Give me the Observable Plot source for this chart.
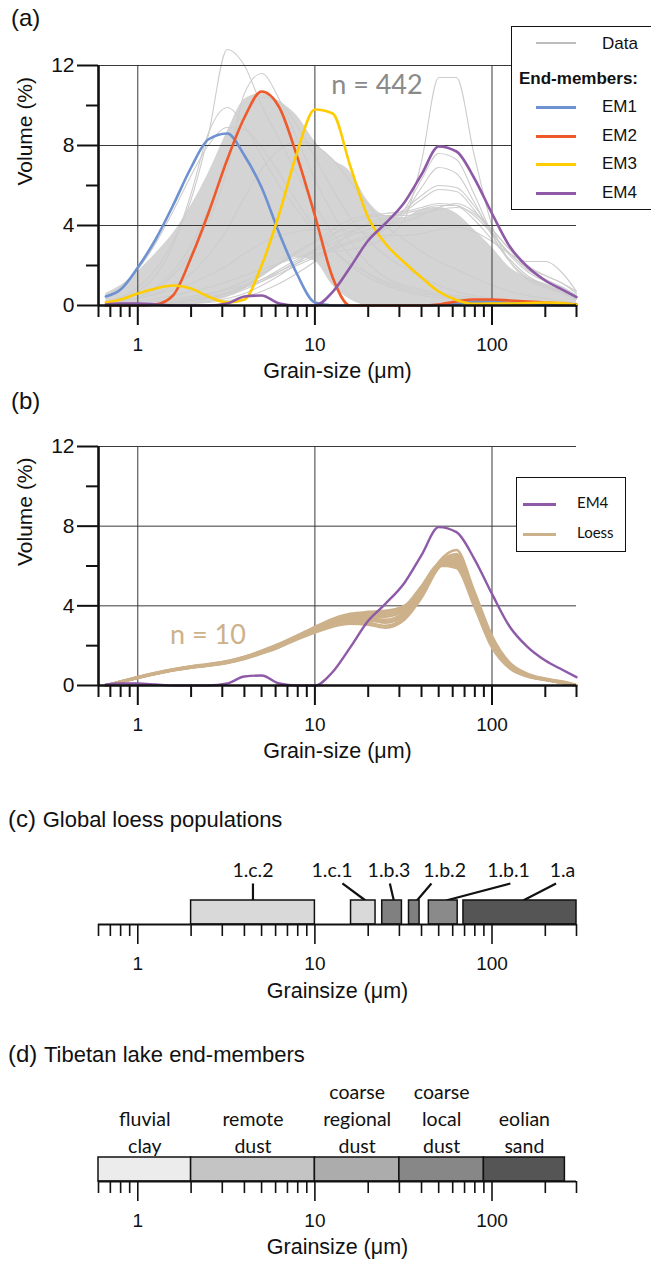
<!DOCTYPE html>
<html><head><meta charset="utf-8">
<script src="https://cdn.jsdelivr.net/npm/d3@7"></script>
<script src="https://cdn.jsdelivr.net/npm/@observablehq/plot@0.6"></script>
<style>
body{margin:0;background:#fff;overflow:hidden;}
#root{position:relative;width:651px;height:1261px;overflow:hidden;font-family:"Liberation Sans",Arial,sans-serif;color:#111;}
.abs{position:absolute;white-space:nowrap;line-height:1;}
.panel{position:absolute;left:0;}
.lg{position:absolute;background:#fff;border:1.5px solid #111;box-sizing:border-box;}
.sw{position:absolute;height:3px;}
</style></head><body><div id="root"></div>
<script>
// ---------- data ----------
const grain = [0.66,0.8,1,1.26,1.58,2,2.5,3.2,4,5,6.3,7.9,10,12.6,15.8,20,25,32,40,50,63,79,100,126,158,200,251,300];

const em1 = [0.45,0.8,1.9,3.3,5.0,6.9,8.3,8.6,7.5,5.9,3.6,1.6,0.15,0,0,0,0,0,0,0.02,0.08,0.18,0.2,0.12,0.05,0.02,0,0];
const em2 = [0,0,0,0.05,0.5,2.4,4.6,7.3,9.4,10.7,9.9,7.5,4.5,1.4,0,0,0,0,0,0.05,0.2,0.3,0.3,0.25,0.2,0.15,0.1,0.05];
const em3 = [0.15,0.3,0.6,0.85,1.0,0.85,0.45,0.15,0.3,2.0,4.6,7.6,9.8,9.6,7.0,4.4,3.1,2.15,1.4,0.7,0.28,0.08,0.1,0.1,0.12,0.15,0.12,0.02];
const em4 = [0.05,0.1,0.1,0.05,0,0,0,0.1,0.45,0.5,0.1,0,0,0.68,1.9,3.25,4.1,5.15,6.55,7.95,7.7,6.4,4.6,2.95,1.95,1.25,0.78,0.42];
const emNames = ["EM1","EM2","EM3","EM4"];

// dense envelope of the 442 measured samples
const dataHigh = [0.6,1.0,1.7,2.6,3.6,5.0,6.6,8.7,10.3,10.6,10.2,9.5,8.2,7.3,6.7,5.2,4.5,4.4,4.8,4.9,4.6,3.8,2.9,1.9,1.4,1.1,0.75,0.4];
const dataLow  = [0,0,0,0,0,0.05,0.15,0.4,0.8,1.4,2.0,2.4,2.2,1.0,0.3,0,0,0,0,0,0,0,0,0,0,0,0,0];
// individually visible samples
const dataSamples = [
  [0.2,0.4,0.9,1.8,3.2,5.3,8.5,12.8,12.0,10.0,8.3,6.6,5.0,3.6,2.5,1.6,1.1,0.8,0.6,0.5,0.4,0.3,0.25,0.2,0.15,0.1,0.05,0],
  [0.1,0.2,0.4,0.8,1.5,2.6,4.2,6.8,10.6,11.6,10.3,8.4,6.3,4.6,3.2,2.1,1.4,1.0,0.8,0.6,0.5,0.4,0.3,0.2,0.15,0.1,0.05,0],
  [0.2,0.35,0.7,1.5,3.0,5.6,8.6,9.9,9.0,7.5,6.0,4.8,3.7,2.8,2.1,1.6,1.2,0.9,0.7,0.5,0.4,0.3,0.2,0.15,0.1,0.05,0.02,0],
  [0.5,0.9,1.8,3.1,4.7,6.5,8.0,8.9,8.8,7.9,6.6,5.2,3.9,2.8,2.0,1.4,1.0,0.7,0.5,0.4,0.3,0.2,0.15,0.1,0.05,0.02,0,0],
  [0.1,0.2,0.4,0.9,1.7,3.0,4.8,7.2,9.4,10.4,10.2,9.0,7.4,5.8,4.4,3.3,2.5,1.9,1.4,1.0,0.7,0.5,0.35,0.25,0.15,0.1,0.05,0],
  [0.1,0.2,0.35,0.6,1.0,1.6,2.5,3.8,5.4,6.8,7.8,8.2,8.0,7.3,6.2,5.0,4.0,3.3,2.7,2.2,1.8,1.4,1.0,0.7,0.5,0.35,0.2,0.1],
  [0.05,0.1,0.2,0.35,0.5,0.7,0.9,1.2,1.5,1.8,2.1,2.4,2.6,2.7,2.8,3.0,3.4,4.3,7.2,11.4,11.4,7.6,4.0,2.2,1.3,0.9,0.6,0.3],
  [0,0.05,0.1,0.2,0.3,0.45,0.6,0.8,1.0,1.3,1.7,2.1,2.5,2.9,3.2,3.5,3.9,4.8,6.3,7.6,7.3,5.6,3.6,2.2,1.4,1.0,0.7,0.4],
  [0,0,0.05,0.1,0.15,0.25,0.4,0.6,0.9,1.3,1.8,2.3,2.8,3.3,3.7,4.0,4.3,4.8,5.5,6.0,5.9,5.0,3.7,2.5,1.7,1.2,0.8,0.5],
  [0,0,0,0.05,0.1,0.2,0.35,0.5,0.8,1.2,1.7,2.2,2.7,3.1,3.5,3.8,4.2,4.7,5.3,5.8,5.7,4.8,3.6,2.6,1.9,1.5,1.1,0.7],
  [0.1,0.2,0.35,0.55,0.8,1.1,1.5,2.0,2.6,3.1,3.5,3.7,3.8,3.8,3.7,3.6,3.5,3.5,3.6,3.8,3.9,3.7,3.2,2.6,2.2,2.2,1.6,0.7],
  [0,0,0.05,0.1,0.2,0.35,0.55,0.85,1.2,1.6,2.1,2.6,3.2,3.8,4.3,4.5,4.6,4.7,4.9,5.1,5.0,4.3,3.3,2.3,1.5,1.0,0.6,0.3],
  [0,0.02,0.05,0.1,0.2,0.3,0.45,0.65,0.9,1.2,1.6,2.0,2.4,2.8,3.1,3.4,3.8,4.6,5.9,6.9,6.6,5.2,3.5,2.2,1.4,1.0,0.7,0.4],
  [0,0,0,0,0.05,0.1,0.2,0.35,0.6,1.0,1.5,2.1,2.8,3.5,4.1,4.4,4.5,4.5,4.6,4.8,4.9,4.6,3.8,2.8,1.9,1.3,0.9,0.5],
  [0,0,0,0.02,0.05,0.1,0.15,0.25,0.4,0.7,1.1,1.6,2.2,2.9,3.6,4.1,4.4,4.6,4.8,5.0,5.0,4.5,3.6,2.6,1.8,1.3,0.9,0.5],
  [0,0,0.02,0.05,0.1,0.2,0.35,0.6,1.0,1.5,2.1,2.7,3.2,3.6,3.9,4.0,4.1,4.2,4.5,4.9,5.1,4.7,3.8,2.8,2.0,1.5,1.1,0.6]
];

const loessSamples = [
  [0,0.2,0.42,0.62,0.8,0.95,1.05,1.2,1.42,1.7,2.05,2.45,2.85,3.25,3.5,3.65,3.7,3.95,4.9,6.0,6.0,4.2,2.1,0.95,0.5,0.3,0.15,0],
  [0,0.18,0.4,0.6,0.78,0.92,1.02,1.17,1.38,1.65,2.0,2.4,2.8,3.2,3.45,3.5,3.55,3.9,4.8,6.05,5.9,4.0,1.9,0.85,0.45,0.28,0.12,0],
  [0,0.2,0.43,0.64,0.82,0.97,1.08,1.23,1.45,1.75,2.1,2.5,2.95,3.35,3.6,3.7,3.75,4.0,5.0,6.1,6.2,4.4,2.2,1.0,0.55,0.32,0.18,0.02],
  [0,0.17,0.38,0.58,0.76,0.9,1.0,1.14,1.35,1.62,1.95,2.35,2.7,3.05,3.25,3.25,3.2,3.6,4.7,6.1,6.6,4.7,2.4,1.1,0.55,0.3,0.15,0],
  [0,0.19,0.41,0.61,0.79,0.94,1.04,1.19,1.4,1.68,2.02,2.42,2.8,3.15,3.35,3.35,3.3,3.7,4.75,6.2,6.8,4.8,2.5,1.15,0.6,0.35,0.2,0.03],
  [0,0.16,0.37,0.57,0.75,0.89,0.99,1.13,1.33,1.6,1.92,2.3,2.65,2.95,3.1,3.05,2.9,3.3,4.4,5.9,6.4,4.6,2.3,1.05,0.5,0.28,0.12,0],
  [0,0.18,0.39,0.59,0.77,0.91,1.01,1.15,1.36,1.63,1.97,2.37,2.75,3.1,3.3,3.3,3.15,3.5,4.55,6.0,6.3,4.5,2.25,1.0,0.5,0.3,0.15,0],
  [0,0.2,0.42,0.63,0.81,0.96,1.06,1.21,1.43,1.72,2.07,2.47,2.9,3.3,3.55,3.6,3.6,3.85,4.85,6.05,6.1,4.3,2.15,0.95,0.48,0.27,0.12,0],
  [0,0.17,0.38,0.58,0.76,0.9,1.0,1.15,1.36,1.64,1.98,2.38,2.75,3.05,3.2,3.15,3.0,3.4,4.5,6.0,6.5,4.6,2.35,1.05,0.52,0.3,0.14,0],
  [0,0.19,0.4,0.6,0.78,0.93,1.03,1.18,1.39,1.67,2.01,2.41,2.82,3.2,3.4,3.45,3.45,3.8,4.8,6.1,6.2,4.4,2.2,1.0,0.5,0.3,0.15,0]
];

// (c) global loess populations
const popNames = ["1.c.2","1.c.1","1.b.3","1.b.2","1.b.1","1.a"];
const popLow   = [2,16,24,34,44,69];
const popHigh  = [10,22,31,39,64,300];
const popShade = ["#d9d9d9","#d9d9d9","#808080","#808080","#8a8a8a","#555555"];

// (d) Tibetan lake end-members
const lakeNames = ["fluvial\nclay","remote\ndust","coarse\nregional\ndust","coarse\nlocal\ndust","eolian\nsand"];
const lakeBounds = [0.6,2,10,30,90,258];
const lakeShade = ["#ececec","#c4c4c4","#acacac","#878787","#555555"];

// ticks
const minorX = [0.6,0.7,0.8,0.9,2,3,4,5,6,7,8,9,20,30,40,50,60,70,80,90,200,300];
const majorX = [1,10,100];
const majorY = [0,4,8,12];
const minorY = [2,6,10];

// ---------- styles ----------
const emColors = ["#6e91d1","#ef5a2a","#ffcc00","#8e5aa8"];
const tan = "#ccb18b";
const W = 651, ML = 98, MR = 75;
const root = document.getElementById("root");

function put(node, top){ node.classList.add("panel"); node.style.top = top + "px"; root.appendChild(node); }
function label(html, x, y, css){ const d = document.createElement("div"); d.className="abs"; d.innerHTML = html; d.style.left = x+"px"; d.style.top = y+"px"; d.style.cssText += css||""; root.appendChild(d); return d; }

const rowsOf = (vals, key) => grain.map((g,i) => ({g, v: vals[i], key}));

function xAxis(sw, base, fs){
  return [
    Plot.ruleY([base], {strokeWidth: sw + 0.6, stroke:"#111"}),
    Plot.axisX(minorX, {tickSize:12, tickFormat:() => "", strokeWidth:sw, stroke:"#111", label:null}),
    Plot.axisX(majorX, {tickSize:20, tickPadding:12, tickFormat:d => String(d), fontSize:fs, strokeWidth:sw, stroke:"#111", fill:"#111", label:null})
  ];
}
function yAxis(){
  return [
    Plot.ruleX([0.6], {y1:0, y2:12, strokeWidth:2.6, stroke:"#111"}),
    Plot.axisY(majorY, {tickSize:21, tickPadding:3, tickFormat:d => String(d), fontSize:21, strokeWidth:2, stroke:"#111", fill:"#111", label:null}),
    Plot.axisY(minorY, {tickSize:12, tickFormat:() => "", strokeWidth:2, stroke:"#111", label:null})
  ];
}
function grid(){
  return [
    Plot.ruleY([4,8,12], {stroke:"#3a3a3a", strokeWidth:1}),
    Plot.ruleX(majorX, {y1:0, y2:12, stroke:"#3a3a3a", strokeWidth:1})
  ];
}
const baseStyle = {fontFamily:"'Liberation Sans', Arial, sans-serif", fontSize:"19px", background:"transparent", overflow:"visible", color:"#111"};

// ---------- panel (a) ----------
const envRows = grain.map((g,i) => ({g, lo: dataLow[i], hi: dataHigh[i]}));
const sampleRows = dataSamples.flatMap((s,k) => rowsOf(s, "s"+k));
const emRows = emNames.map((n,k) => rowsOf([em1,em2,em3,em4][k], n));

const plotA = Plot.plot({
  width: W, height: 385, marginLeft: ML, marginRight: MR, marginTop: 65, marginBottom: 80,
  style: baseStyle,
  x: {type:"log", domain:[0.6,300]},
  y: {domain:[0,12]},
  marks: [
    Plot.areaY(envRows, {x:"g", y1:"lo", y2:"hi", fill:"#d4d4d4", curve:"monotone-x"}),
    Plot.line(sampleRows, {x:"g", y:"v", z:"key", stroke:"#cdcdcd", strokeWidth:1.1, curve:"monotone-x"}),
    ...grid(),
    ...emRows.map((r,k) => Plot.line(r, {x:"g", y:"v", stroke: emColors[k], strokeWidth:2.6, curve:"monotone-x"})),
    Plot.text([{x:22.4, y:11.0, t:"n = 442"}], {x:"x", y:"y", text:"t", fontSize:27, fill:"#8a8a8a", fontFamily:"Lato, 'Open Sans', sans-serif"}),
    ...yAxis(),
    ...xAxis(2, 0, 19),
    Plot.text(["Grain-size (μm)"], {frameAnchor:"bottom", dy:72, fontSize:21.5, fill:"#111"}),
    Plot.text(["Volume (%)"], {frameAnchor:"left", dx:-73, rotate:-90, fontSize:21, fill:"#111"})
  ]
});
put(plotA, 0);

// ---------- panel (b) ----------
const loessRows = loessSamples.flatMap((s,k) => rowsOf(s, "l"+k));
const plotB = Plot.plot({
  width: W, height: 395, marginLeft: ML, marginRight: MR, marginTop: 61, marginBottom: 95,
  style: baseStyle,
  x: {type:"log", domain:[0.6,300]},
  y: {domain:[0,12]},
  marks: [
    ...grid(),
    Plot.line(loessRows, {x:"g", y:"v", z:"key", stroke: tan, strokeWidth:2.4, curve:"monotone-x"}),
    Plot.line(rowsOf(em4, "EM4"), {x:"g", y:"v", stroke: emColors[3], strokeWidth:2.4, curve:"monotone-x"}),
    Plot.text([{x:2.49, y:2.5, t:"n = 10"}], {x:"x", y:"y", text:"t", fontSize:27, fill: tan, fontFamily:"Lato, 'Open Sans', sans-serif"}),
    ...yAxis(),
    ...xAxis(2, 0, 19),
    Plot.text(["Grain-size (μm)"], {frameAnchor:"bottom", dy:72, fontSize:21.5, fill:"#111"}),
    Plot.text(["Volume (%)"], {frameAnchor:"left", dx:-73, rotate:-90, fontSize:21, fill:"#111"})
  ]
});
put(plotB, 385);

// ---------- panel (c) ----------
const popRows = popNames.map((n,i) => ({n, lo: popLow[i], hi: popHigh[i], fill: popShade[i]}));
// label anchor and leader ends (layout)
const popLabelX = [4.47, 12.5, 26.2, 54, 124, 250];
const leaderTop = [4.47, 14.3, 26.5, 45.5, 127, 230];
const leaderBottom = [4.47, 19.3, 27.9, 37.7, 55, 150];
const leaderRows = popNames.map((n,i) => ({x1: leaderTop[i], x2: leaderBottom[i], lx: popLabelX[i], n}));
const plotC = Plot.plot({
  width: W, height: 210, marginLeft: ML, marginRight: MR, marginTop: 100, marginBottom: 86,
  style: baseStyle,
  x: {type:"log", domain:[0.6,300]},
  y: {domain:[0,1], axis:null},
  color: {type:"identity"},
  marks: [
    Plot.link(leaderRows, {x1:"x1", x2:"x2", y1:1.71, y2:1, stroke:"#111", strokeWidth:2.2}),
    Plot.rect(popRows, {x1:"lo", x2:"hi", y1:0, y2:1, fill:"fill", stroke:"#111", strokeWidth:1.5}),
    Plot.text(leaderRows, {x:"lx", y:2.25, text:"n", fontSize:19.5, fill:"#111", fontFamily:"Lato, 'Open Sans', sans-serif"}),
    ...xAxis(1.6, 0, 19),
    Plot.text(["Grainsize (μm)"], {frameAnchor:"bottom", dy:73, fontSize:21.5, fill:"#111"})
  ]
});
put(plotC, 800);

// ---------- panel (d) ----------
const lakeRows = lakeNames.map((n,i) => ({n, lo: lakeBounds[i], hi: lakeBounds[i+1], mid: Math.sqrt(lakeBounds[i]*lakeBounds[i+1]), fill: lakeShade[i]}));
const plotD = Plot.plot({
  width: W, height: 221, marginLeft: ML, marginRight: MR, marginTop: 117, marginBottom: 80,
  style: baseStyle,
  x: {type:"log", domain:[0.6,300]},
  y: {domain:[0,1], axis:null},
  color: {type:"identity"},
  marks: [
    Plot.rect(lakeRows, {x1:"lo", x2:"hi", y1:0, y2:1, fill:"fill", stroke:"#111", strokeWidth:1.5}),
    Plot.text(lakeRows, {x:"mid", y:1.2, text:"n", lineAnchor:"bottom", lineHeight:1.38, fontSize:19.5, fill:"#111", fontFamily:"Lato, 'Open Sans', sans-serif"}),
    ...xAxis(1.6, 0, 19),
    Plot.text(["Grainsize (μm)"], {frameAnchor:"bottom", dy:72, fontSize:21.5, fill:"#111"})
  ]
});
put(plotD, 1040);

// ---------- panel letters & titles ----------
label("(a)", 11, 6, "font-size:24px;");
label("(b)", 11, 389, "font-size:24px;");
label("(c) <span style='font-size:22px'>Global loess populations</span>", 8, 807, "font-size:24px;");
label("(d) <span style='font-size:22px'>Tibetan lake end-members</span>", 8, 1042, "font-size:24px;");

// ---------- legend (a) ----------
const lgA = document.createElement("div"); lgA.className = "lg";
Object.assign(lgA.style, {left:"511px", top:"26px", width:"160px", height:"184px"});
root.appendChild(lgA);
function swatch(parent, x, y, w, color, h){ const s = document.createElement("div"); s.className="sw"; Object.assign(s.style,{left:x+"px", top:(y-(h||3)/2)+"px", width:w+"px", height:(h||3)+"px", background:color}); parent.appendChild(s); }
function ltext(parent, txt, x, y, css){ const d = document.createElement("div"); d.className="abs"; d.textContent = txt; d.style.left=x+"px"; d.style.top=(y-9)+"px"; d.style.cssText += css||""; parent.appendChild(d); }
swatch(lgA, 24, 16, 40, "#bdbdbd", 2);
ltext(lgA, "Data", 90, 17, "font-size:17px;");
ltext(lgA, "End-members:", 7, 52, "font-size:17px;font-weight:bold;");
const lgRows = [80,109,137,166];
emNames.forEach((n,k) => { swatch(lgA, 24, lgRows[k], 40, emColors[k], 3); ltext(lgA, n, 90, lgRows[k], "font-size:17px;"); });

// ---------- legend (b) ----------
const lgB = document.createElement("div"); lgB.className = "lg";
Object.assign(lgB.style, {left:"516px", top:"477px", width:"110px", height:"75px"});
root.appendChild(lgB);
swatch(lgB, 6, 26, 33, emColors[3], 3);
ltext(lgB, "EM4", 60, 26, "font-size:15px;font-family:Lato,'Open Sans',sans-serif;");
swatch(lgB, 6, 56, 33, tan, 3);
ltext(lgB, "Loess", 60, 56, "font-size:15px;font-family:Lato,'Open Sans',sans-serif;");
</script></body></html>
